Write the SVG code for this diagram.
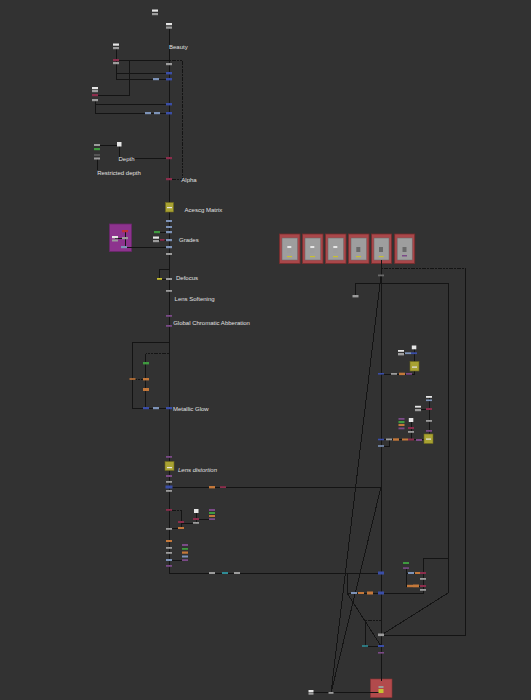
<svg xmlns="http://www.w3.org/2000/svg" width="531" height="700" viewBox="0 0 531 700">
<style>
.bg{fill:#323232}
.ln{fill:none;stroke:#141414;stroke-width:1;shape-rendering:crispEdges}
.dt{fill:none;stroke:#141414;stroke-width:1;stroke-dasharray:2 0.7;shape-rendering:crispEdges}
text{font-family:"Liberation Sans",Arial,sans-serif;font-size:6px;fill:#e0e0e0;dominant-baseline:central}
.w{fill:#e6e6e6}.g{fill:#9c9c9c}.b{fill:#3a4ea8}.gb{fill:#7d93b8}.p{fill:#8c2d4c}.pu{fill:#7b4a87}
.gr{fill:#3f9a3f}.o{fill:#c4783a}.r{fill:#c0303a}.dk{fill:#555}.y{fill:#c8c030}.t{fill:#2f8c96}.dg{fill:#6a6a6a}
.yel{fill:#a8a232;stroke:#6f6a1c;stroke-width:0.6}
.bd{fill:#a9474a;stroke:#7a2d2d;stroke-width:0.8}
.bdi{fill:#9e9e9e;stroke:#6a6a6a;stroke-width:0.5}
</style>
<rect class="bg" x="0" y="0" width="531" height="700"/>

<!-- backdrops -->
<g id="backdrops">
<rect class="bd" x="279.5" y="234" width="20.5" height="29.5"/><rect class="bdi" x="282" y="238" width="15.5" height="22"/>
<rect class="w" x="287.3" y="246" width="4" height="2"/><rect class="g" x="287.3" y="249" width="4" height="4"/><rect class="y" x="287" y="256" width="5" height="1.2"/>
<rect class="bd" x="302.5" y="234" width="20.5" height="29.5"/><rect class="bdi" x="305" y="238" width="15.5" height="22"/>
<rect class="w" x="310.3" y="246" width="4" height="2"/><rect class="g" x="310.3" y="249" width="4" height="4"/><rect class="y" x="310" y="256" width="5" height="1.2"/>
<rect class="bd" x="325.5" y="234" width="20.5" height="29.5"/><rect class="bdi" x="328" y="238" width="15.5" height="22"/>
<rect class="w" x="333.3" y="246" width="4" height="2"/><rect class="g" x="333.3" y="249" width="4" height="4"/><rect class="y" x="333" y="256" width="5" height="1.2"/>
<rect class="bd" x="348.5" y="234" width="20.5" height="29.5"/><rect class="bdi" x="351" y="238" width="15.5" height="22"/>
<rect class="dg" x="356.3" y="247" width="4" height="5"/><rect class="y" x="356" y="256" width="5" height="1.2"/>
<rect class="bd" x="371.5" y="234" width="20" height="29.5"/><rect class="bdi" x="374" y="238" width="15" height="22"/>
<rect class="dg" x="379" y="247" width="4" height="5"/><rect class="y" x="378.7" y="256" width="5" height="1.2"/>
<rect class="bd" x="394.7" y="234" width="20" height="29.5"/><rect class="bdi" x="397.2" y="238" width="15" height="22"/>
<rect class="dg" x="402.5" y="247" width="4" height="5"/><rect class="pu" x="402" y="255" width="5" height="1.5"/>
<rect x="370.5" y="679" width="21.5" height="18.5" fill="#b24a4c" stroke="#8a3333" stroke-width="0.6"/>
<rect x="109.5" y="224" width="22" height="27.5" fill="#8d338e" stroke="#6a276b" stroke-width="0.8"/>
</g>

<g id="connectors">
<path class="ln" d="M169,29 V573 H381"/>
<path class="ln" d="M116,49 V79 H169 M116,73 H169"/>
<path class="ln" d="M116,60 H169"/>
<path class="dt" d="M169,60 H182 V179 H169"/>
<path class="ln" d="M129,60 V95.5 H96"/>
<path class="ln" d="M95,101 V113 H169 M95,104 H169"/>
<path class="ln" d="M97,145 H119 M119,146 V158 H169 M97,159 V170"/>
<path class="ln" d="M157,232 H169 M156,240 H169 M124,247 H169 M125,231 V247 M115,238.5 H125"/>
<path class="ln" d="M169,269.5 H159 V279 H169"/>
<path class="ln" d="M169,342.5 H132.5 V408 H169"/>
<path class="dt" d="M169,353.5 H145.5"/>
<path class="ln" d="M145.5,353.5 V408"/>
<path class="dt" d="M132.5,379 H146"/>
<path class="ln" d="M169,487 H381"/>
<path class="dt" d="M169,510 H181"/>
<path class="ln" d="M181,510 V528 H169 M181,523 H196 M196,512 V523 M196,519 H212"/>
<path class="ln" d="M169,560 H185"/>
<path class="ln" d="M381,260 V681"/>
<path class="dt" d="M381,268 H465"/>
<path class="ln" d="M465,268 V635 H382"/>
<path class="ln" d="M355,296 V283.5 H448 V593 L383,634"/>
<path class="ln" d="M381,275 L331,693 M381,487 L331,693 M311,692.5 H381"/>
<path class="ln" d="M347,573 V593 H423 V558 H448 M347,593 L381,646"/>
<path class="dt" d="M365,620 H381"/>
<path class="ln" d="M365,620 V646 H381"/>
<path class="ln" d="M406,568 V586 H423 M406,573 H423"/>
<path class="ln" d="M401,353 H414 M414,347 V374 H381"/>
<path class="ln" d="M418,409 H429 M429,397 V438 M411,420 V439.5 M381,439.5 H429 M381,446 H389 V439.5"/>
</g>

<g id="labels">
<text x="169" y="47.3">Beauty</text>
<text x="118.5" y="159.3">Depth</text>
<text x="97.2" y="173.3">Restricted depth</text>
<text x="181.3" y="180">Alpha</text>
<text x="184.6" y="210.3">Acescg Matrix</text>
<text x="179" y="240">Grades</text>
<text x="176" y="277.5">Defocus</text>
<text x="174.6" y="299">Lens Softening</text>
<text x="173.2" y="322.7">Global Chromatic Abberation</text>
<text x="173" y="409.3">Metallic Glow</text>
<text x="178" y="469.7" font-style="italic">Lens distortion</text>
</g>

<g id="n_top1"><rect class="w" x="152" y="9.5" width="6" height="2.2"/><rect class="g" x="152" y="13" width="6" height="2.2"/></g>
<g id="n_beauty"><rect class="w" x="166" y="23" width="6" height="2.2"/><rect class="g" x="166" y="26.5" width="6" height="2.2"/></g>
<g id="n_read2"><rect class="w" x="113" y="43.5" width="6" height="2.2"/><rect class="g" x="113" y="47" width="6" height="2.2"/></g>
<g id="n_p1"><rect class="p" x="113" y="59" width="6" height="2.2"/><rect class="g" x="113" y="62" width="6" height="2.2"/></g>
<g id="n_t1"><rect class="g" x="166" y="63" width="6" height="2.2"/></g>
<g id="n_t2"><rect class="b" x="166" y="72" width="6" height="2.4"/></g>
<g id="n_t3"><rect class="gb" x="153" y="78" width="6" height="2.2"/></g>
<g id="n_t4"><rect class="b" x="166" y="78" width="6" height="2.4"/></g>
<g id="n_read3"><rect class="w" x="92" y="87" width="6" height="2.2"/><rect class="g" x="92" y="90" width="6" height="2.2"/><rect class="p" x="92" y="94" width="6" height="2.2"/><rect class="g" x="92" y="99" width="6" height="2.2"/></g>
<g id="n_t5"><rect class="b" x="166" y="103" width="6" height="2.4"/></g>
<g id="n_t6"><rect class="gb" x="145" y="112" width="6" height="2.2"/></g>
<g id="n_t7"><rect class="gb" x="154" y="112" width="6" height="2.2"/></g>
<g id="n_t8"><rect class="b" x="166" y="112" width="6" height="2.4"/></g>
<g id="n_depthread"><rect class="w" x="117" y="142" width="4.5" height="4.5"/></g>
<g id="n_rdepth"><rect class="g" x="94" y="144" width="6" height="2"/><rect class="gr" x="94" y="148" width="6" height="2.2"/><rect class="dk" x="94" y="154" width="6" height="2"/><rect class="g" x="94" y="157.5" width="6" height="2"/></g>
<g id="n_depth"><rect class="p" x="166" y="157" width="6" height="2.2"/></g>
<g id="n_alpha"><rect class="p" x="166" y="178" width="6" height="2.2"/></g>
<g id="n_aces"><rect class="yel" x="165.5" y="202.5" width="8" height="9.5"/><rect class="w" x="167" y="207" width="5" height="1.2"/></g>
<g id="n_g1"><rect class="gb" x="166" y="220" width="6" height="2"/></g>
<g id="n_g2"><rect class="gb" x="166" y="226" width="6" height="2"/></g>
<g id="n_g3"><rect class="gb" x="166" y="231" width="6" height="2.2"/></g>
<g id="n_g4"><rect class="gr" x="154" y="231" width="6" height="2.2"/></g>
<g id="n_g5"><rect class="gb" x="166" y="239" width="6" height="2.2"/></g>
<g id="n_g6"><rect class="w" x="153" y="236.5" width="6" height="2.2"/><rect class="g" x="153" y="240" width="6" height="2.2"/></g>
<g id="n_g7"><rect class="p" x="160" y="239" width="4.5" height="1.8"/></g>
<g id="n_g8"><rect class="gb" x="166" y="246" width="6" height="2.2"/></g>
<g id="n_g9"><rect class="g" x="166" y="253" width="6" height="2"/></g>
<g id="n_pb1"><rect class="r" x="122" y="230" width="6" height="2.2"/></g>
<g id="n_pb2"><rect class="g" x="122" y="237" width="6" height="2.2"/></g>
<g id="n_pb3"><rect class="gb" x="121" y="246" width="6" height="2.2"/></g>
<g id="n_pb4"><rect class="w" x="112" y="236" width="6" height="2.2"/><rect class="g" x="112" y="239.5" width="6" height="2"/></g>
<g id="n_defocus"><rect class="g" x="166" y="278" width="6" height="2"/></g>
<g id="n_def2"><rect class="y" x="157" y="278" width="5" height="1.8"/></g>
<g id="n_soft"><rect class="g" x="166" y="290" width="6" height="1.8"/></g>
<g id="n_ca1"><rect class="pu" x="166" y="315" width="6" height="1.8"/></g>
<g id="n_ca2"><rect class="pu" x="166" y="325" width="6" height="1.8"/></g>
<g id="n_m1"><rect class="gr" x="143" y="362" width="6" height="2.4"/></g>
<g id="n_m2"><rect class="o" x="143" y="378" width="6" height="2.4"/></g>
<g id="n_m3"><rect class="o" x="143" y="388" width="6" height="3"/></g>
<g id="n_m4"><rect class="o" x="129.5" y="378.2" width="6" height="1.6"/></g>
<g id="n_m5"><rect class="b" x="143" y="407" width="6" height="2.2"/></g>
<g id="n_m6"><rect class="gb" x="153" y="407" width="6" height="2.2"/></g>
<g id="n_m7"><rect class="b" x="166" y="407" width="6" height="2.2"/></g>
<g id="n_l1"><rect class="pu" x="166" y="456" width="6" height="1.8"/></g>
<g id="n_lensdist"><rect class="yel" x="165" y="461.5" width="9" height="9"/><rect class="w" x="167" y="467" width="5" height="1.2"/></g>
<g id="n_l2"><rect class="pu" x="166" y="475" width="6" height="2"/></g>
<g id="n_l3"><rect class="g" x="166" y="481" width="6" height="1.8"/></g>
<g id="n_l4"><rect class="b" x="165.5" y="485.5" width="7" height="3"/></g>
<g id="n_l5"><rect class="g" x="166" y="490" width="6" height="1.8"/></g>
<g id="n_l6"><rect class="o" x="209" y="486" width="6" height="2.4"/></g>
<g id="n_l7"><rect class="p" x="220" y="486.2" width="6" height="1.8"/></g>
<g id="n_l8"><rect class="p" x="166" y="509" width="6" height="1.8"/></g>
<g id="n_l9"><rect class="p" x="178" y="521" width="6" height="2"/></g>
<g id="n_l10"><rect class="o" x="178" y="527" width="6" height="2"/></g>
<g id="n_l11"><rect class="g" x="166" y="528" width="6" height="1.8"/></g>
<g id="n_l12"><rect class="w" x="194" y="509" width="4.5" height="4"/></g>
<g id="n_l13"><rect class="p" x="193" y="518" width="6" height="2"/></g>
<g id="n_l14"><rect class="g" x="193" y="522" width="6" height="1.8"/></g>
<g id="n_l15"><rect class="pu" x="209" y="509" width="6" height="2"/><rect class="gr" x="209" y="512" width="6" height="2"/><rect class="o" x="209" y="515" width="6" height="2"/><rect class="pu" x="209" y="518.2" width="6" height="1.8"/></g>
<g id="n_l16"><rect class="o" x="166" y="540" width="6" height="2"/></g>
<g id="n_l17"><rect class="g" x="166" y="547" width="6" height="1.8"/></g>
<g id="n_l18"><rect class="g" x="166" y="552" width="6" height="1.8"/></g>
<g id="n_l19"><rect class="gb" x="166" y="559" width="6" height="2"/></g>
<g id="n_l20"><rect class="pu" x="166" y="565" width="6" height="1.8"/></g>
<g id="n_l21"><rect class="pu" x="182" y="544" width="6" height="2"/><rect class="gr" x="182" y="548" width="6" height="1.8"/><rect class="o" x="182" y="551.5" width="6" height="2.2"/><rect class="gb" x="182" y="555.5" width="6" height="2"/><rect class="pu" x="182" y="559.2" width="6" height="1.8"/></g>
<g id="n_b1"><rect class="g" x="209" y="572" width="6" height="2"/></g>
<g id="n_b2"><rect class="t" x="222" y="572" width="6" height="2"/></g>
<g id="n_b3"><rect class="g" x="234" y="572" width="6" height="2"/></g>
<g id="n_b4"><rect class="b" x="378" y="571.5" width="6" height="3"/></g>
<g id="n_r1"><rect class="dg" x="378" y="274.5" width="6" height="1.8"/></g>
<g id="n_r2"><rect class="g" x="352.5" y="295" width="6" height="2.4"/></g>
<g id="n_r3"><rect class="w" x="411.8" y="345.5" width="4.5" height="3.8"/></g>
<g id="n_r4"><rect class="w" x="398" y="350" width="6" height="1.8"/><rect class="g" x="398" y="353" width="6" height="2.4"/></g>
<g id="n_r5"><rect class="gb" x="405" y="352.3" width="6" height="1.8"/></g>
<g id="n_r6"><rect class="b" x="411" y="352.3" width="6" height="1.8"/></g>
<g id="n_r7"><rect class="yel" x="410" y="361.5" width="9" height="9.5"/><rect class="w" x="412" y="366.5" width="5" height="1.2"/></g>
<g id="n_r8"><rect class="b" x="378" y="373" width="6" height="1.6"/></g>
<g id="n_r9"><rect class="g" x="391" y="373" width="6" height="1.8"/></g>
<g id="n_r10"><rect class="o" x="399" y="372.7" width="6" height="2.4"/></g>
<g id="n_r11"><rect class="pu" x="406" y="373" width="6" height="1.8"/></g>
<g id="n_s1"><rect class="w" x="426" y="396" width="6" height="1.8"/><rect class="gb" x="426" y="399.5" width="6" height="1.6"/></g>
<g id="n_s2"><rect class="p" x="426" y="408" width="6" height="2"/></g>
<g id="n_s3"><rect class="w" x="415" y="405.8" width="6" height="1.8"/><rect class="g" x="415" y="409" width="6" height="2.2"/></g>
<g id="n_s4"><rect class="g" x="426" y="420" width="6" height="1.8"/></g>
<g id="n_s5"><rect class="pu" x="426" y="430" width="6" height="1.8"/></g>
<g id="n_s6"><rect class="yel" x="424" y="434" width="9" height="9.5"/><rect class="w" x="426" y="438.5" width="5" height="1.2"/></g>
<g id="n_s7"><rect class="w" x="408.8" y="418" width="4.5" height="4"/></g>
<g id="n_s8"><rect class="p" x="408" y="427" width="6" height="2"/></g>
<g id="n_s9"><rect class="g" x="408" y="431" width="6" height="1.8"/></g>
<g id="n_s10"><rect class="pu" x="398.5" y="418" width="6" height="1.8"/><rect class="gr" x="398.5" y="421" width="6" height="2.2"/><rect class="o" x="398.5" y="424" width="6" height="2"/><rect class="pu" x="398.5" y="427.5" width="6" height="1.8"/></g>
<g id="n_s11"><rect class="b" x="378" y="438.7" width="6" height="1.6"/></g>
<g id="n_s12"><rect class="g" x="386" y="438.5" width="6" height="1.8"/></g>
<g id="n_s13"><rect class="o" x="393" y="438.3" width="6" height="2.4"/></g>
<g id="n_s14"><rect class="o" x="402" y="438.5" width="6" height="2"/></g>
<g id="n_s15"><rect class="p" x="408" y="438.5" width="6" height="2"/></g>
<g id="n_s16"><rect class="pu" x="416" y="439" width="6" height="2"/></g>
<g id="n_s17"><rect class="gb" x="378" y="445.2" width="6" height="1.6"/></g>
<g id="n_u1"><rect class="gr" x="403" y="562" width="6" height="2"/></g>
<g id="n_u2"><rect class="pu" x="403" y="567.3" width="6" height="1.6"/></g>
<g id="n_u3"><rect class="gb" x="408" y="572" width="6" height="2"/></g>
<g id="n_u4"><rect class="o" x="415" y="572" width="6" height="2"/></g>
<g id="n_u5"><rect class="p" x="420" y="572" width="6" height="2"/></g>
<g id="n_u6"><rect class="g" x="420" y="578" width="6" height="1.8"/></g>
<g id="n_u7"><rect class="o" x="407" y="584.8" width="6" height="2.4"/></g>
<g id="n_u8"><rect class="o" x="413" y="584.5" width="6" height="2.8"/></g>
<g id="n_u9"><rect class="p" x="420" y="585" width="6" height="2"/></g>
<g id="n_u10"><rect class="g" x="420" y="589" width="6" height="1.8"/></g>
<g id="n_v1"><rect class="gb" x="351" y="592" width="6" height="2"/></g>
<g id="n_v2"><rect class="o" x="358" y="592" width="6" height="2"/></g>
<g id="n_v3"><rect class="o" x="367" y="591.5" width="6" height="3"/></g>
<g id="n_v4"><rect class="b" x="378" y="591.5" width="6" height="3"/></g>
<g id="n_v5"><rect class="g" x="378" y="633.5" width="6" height="2.6"/></g>
<g id="n_v6"><rect class="t" x="362" y="645.2" width="6" height="1.6"/></g>
<g id="n_v7"><rect class="b" x="378" y="645" width="6" height="2"/></g>
<g id="n_v8"><rect class="pu" x="378" y="652" width="6" height="1.6"/></g>
<g id="n_out"><rect class="g" x="378.5" y="686" width="5" height="2"/><rect class="y" x="378.5" y="689" width="5" height="4"/></g>
<g id="n_w1"><rect class="w" x="308.5" y="690" width="5" height="2"/><rect class="g" x="308.5" y="692.3" width="5" height="2.4"/></g>
<g id="n_w2"><rect class="g" x="328.5" y="692" width="5" height="1.8"/></g>
</svg>
